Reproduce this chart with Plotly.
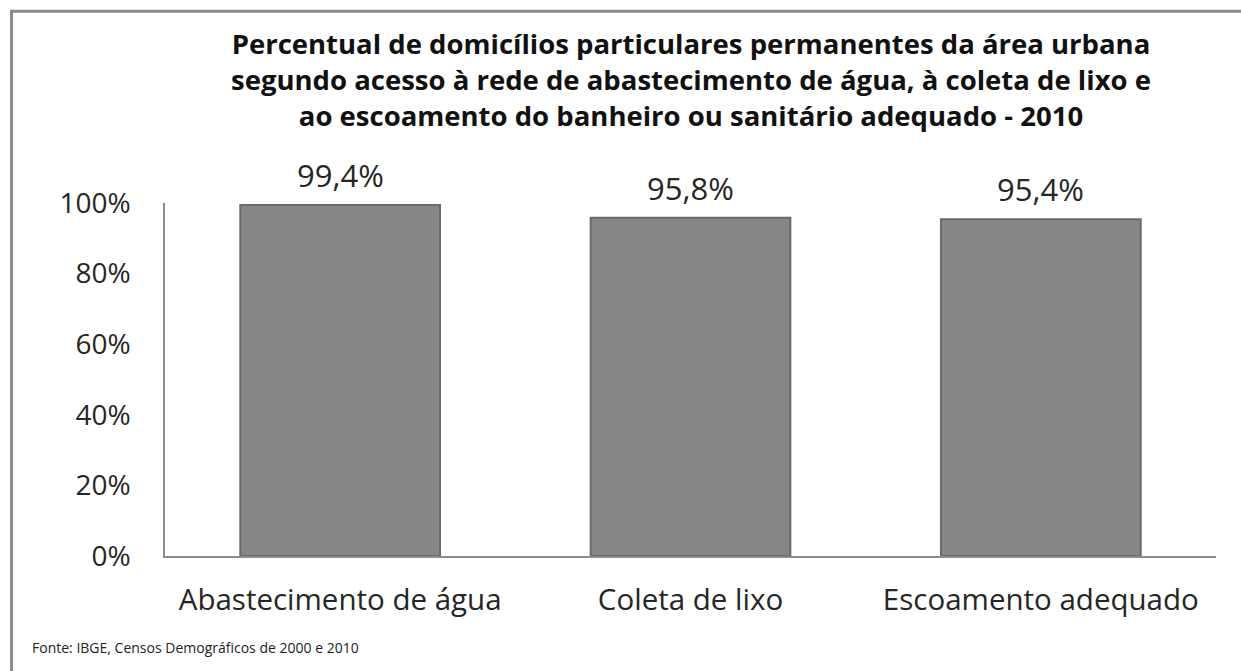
import plotly.graph_objects as go

categorias = ["Abastecimento de água", "Coleta de lixo", "Escoamento adequado"]
percentuais = [0.994, 0.958, 0.954]
rotulos = ["99,4%", "95,8%", "95,4%"]
ticks_y = [0, 0.2, 0.4, 0.6, 0.8, 1.0]
ticks_y_txt = ["0%", "20%", "40%", "60%", "80%", "100%"]

titulo = ("Percentual de domicílios particulares permanentes da área urbana<br>"
          "segundo acesso à rede de abastecimento de água, à coleta de lixo e<br>"
          "ao escoamento do banheiro ou sanitário adequado - 2010")
fonte = "Fonte: IBGE, Censos Demográficos de 2000 e 2010"

fig = go.Figure()

fig.add_trace(
    go.Bar(x=categorias, y=percentuais,
           width=0.57,
           marker=dict(color="#878787", line=dict(color="#6a6a6a", width=2)),
           showlegend=False, hoverinfo="skip"))

for cat, val, txt in zip(categorias, percentuais, rotulos):
    fig.add_annotation(x=cat, y=val, text=txt, showarrow=False,
                       yanchor="bottom", yshift=7,
                       font=dict(size=31, color="#262626"))

fig.add_annotation(x=0.5, y=1.0, xref="paper", yref="paper",
                   text="<b>" + titulo + "</b>", showarrow=False,
                   xanchor="center", yanchor="bottom", yshift=67,
                   align="center",
                   font=dict(size=27.5, color="#111111", family="Open Sans"))

fig.add_annotation(x=-0.128, y=0, xref="paper", yref="paper",
                   text=fonte, showarrow=False,
                   xanchor="left", yanchor="top", yshift=-80,
                   font=dict(size=14, color="#222222"))

# moldura cinza do gráfico
fig.add_shape(type="rect", xref="paper", yref="paper",
              x0=-0.146, x1=1.2, y0=-0.5, y1=1.543,
              line=dict(color="#8c8c8c", width=3), layer="below")

fig.update_layout(
    width=1241, height=671,
    margin=dict(l=165, r=25, t=203, b=115),
    paper_bgcolor="white", plot_bgcolor="white",
    font=dict(family="Open Sans", color="#262626"),
    bargap=0.43,
    xaxis=dict(showline=True, linecolor="#8c8c8c", linewidth=1.5,
               tickfont=dict(size=29.5, color="#262626"), ticks="",
               ticklabelstandoff=17),
    yaxis=dict(range=[0, 1], tickvals=ticks_y, ticktext=ticks_y_txt,
               showgrid=False, zeroline=False,
               showline=True, linecolor="#8c8c8c", linewidth=1.5,
               tickfont=dict(size=28, color="#262626"), ticks="",
               ticklabelstandoff=27),
)

fig.write_html("out.html", config={"displayModeBar": False},
               post_script="document.body.style.margin='0';")
